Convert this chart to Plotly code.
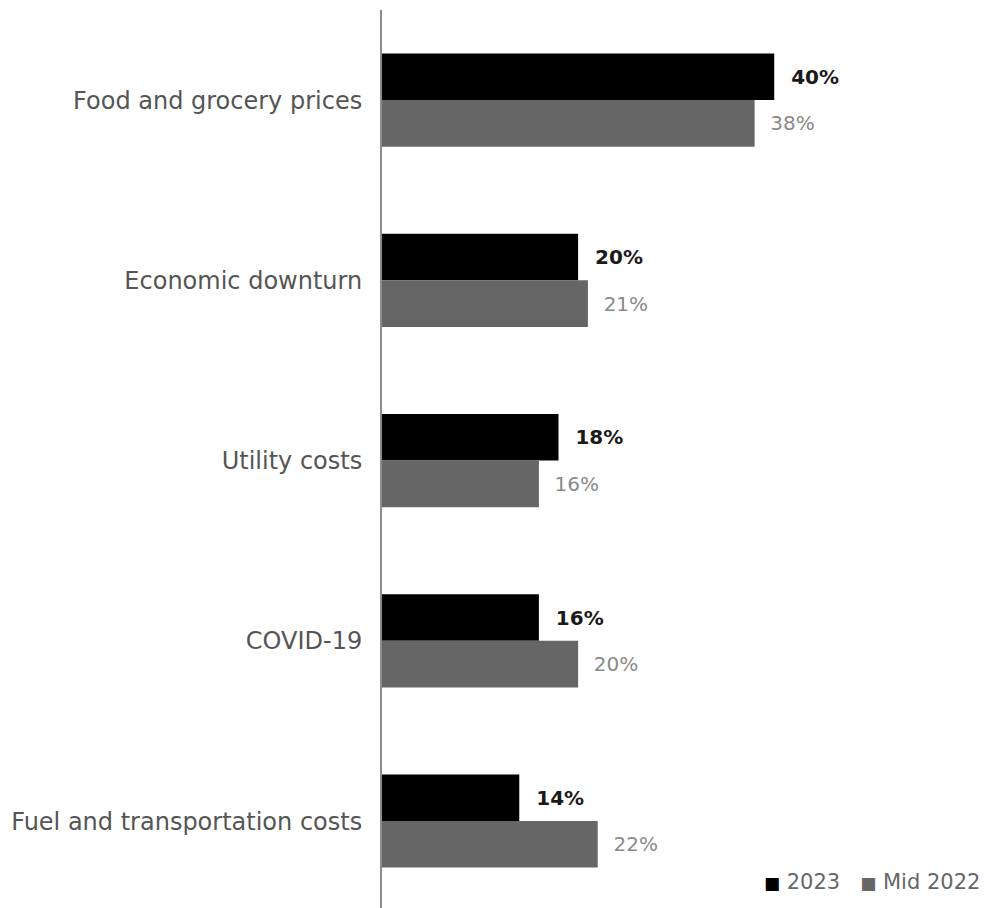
import plotly.graph_objects as go

categories = ["Food and grocery prices", "Economic downturn", "Utility costs",
              "COVID-19", "Fuel and transportation costs"]
values_2023 = [40, 20, 18, 16, 14]
values_mid2022 = [38, 21, 16, 20, 22]
series_names = ["2023", "Mid 2022"]
series_colors = ["#000000", "#666666"]

FONT = "DejaVu Sans"
NB = "\u00a0"
fig = go.Figure()
fig.add_trace(go.Bar(
    y=categories, x=values_2023, orientation="h", name=series_names[0],
    marker=dict(color=series_colors[0], line=dict(width=0)),
    text=[f"{NB}{NB}{v}%" for v in values_2023], textposition="outside",
    textfont=dict(family=FONT, size=20, color="#1a1a1a", weight="bold"),
    cliponaxis=False, showlegend=False,
))
fig.add_trace(go.Bar(
    y=categories, x=values_mid2022, orientation="h", name=series_names[1],
    marker=dict(color=series_colors[1], line=dict(width=0)),
    text=[f"{NB}{NB}{v}%" for v in values_mid2022], textposition="outside",
    textfont=dict(family=FONT, size=20, color="#8a8a8a"),
    cliponaxis=False, showlegend=False,
))

legend_text = (NB * 3).join(
    f'<span style="color:{c};font-size:17px">■</span>{NB}{n}'
    for n, c in zip(series_names, series_colors)
)
fig.add_annotation(
    x=1, y=0.029, xref="paper", yref="paper", xanchor="right", yanchor="middle",
    text=legend_text, showarrow=False, xshift=-6,
    font=dict(family=FONT, size=21, color="#666666"),
)

fig.update_layout(
    width=980, height=900,
    margin=dict(l=374, r=0, t=2, b=0),
    paper_bgcolor="white", plot_bgcolor="white",
    barmode="group", bargap=0.484, bargroupgap=0,
    font=dict(family=FONT, color="#444444"),
    showlegend=False,
    xaxis=dict(range=[0, 61.8], visible=False, showgrid=False, zeroline=False),
    yaxis=dict(range=[4.482, -0.5], showline=True, linecolor="#8c8c8c", linewidth=2,
               showgrid=False, ticks="", ticklabelstandoff=13,
               tickfont=dict(family=FONT, size=24, color="#555555")),
)

fig.write_html("out.html")
